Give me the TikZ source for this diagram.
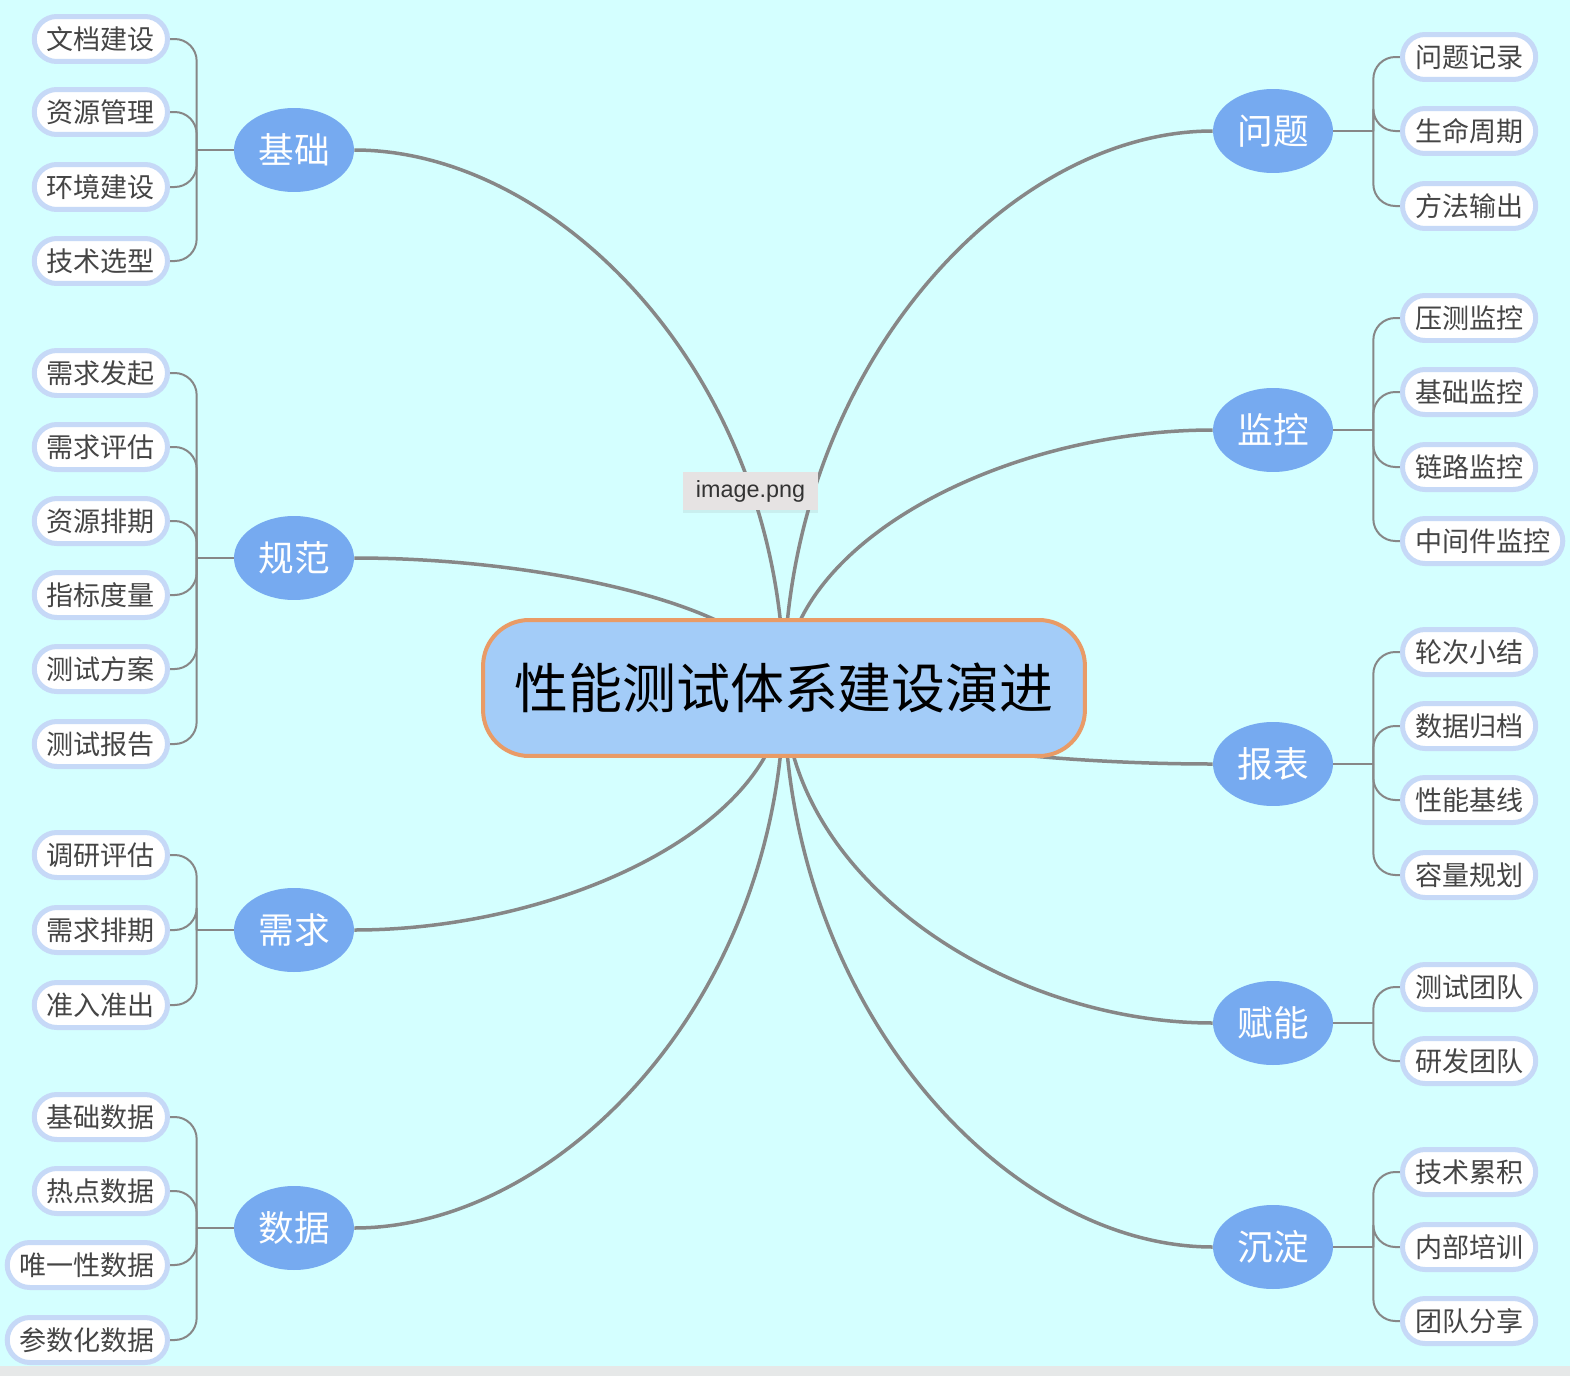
\documentclass[tikz,border=0pt]{standalone}
\usepackage{fontspec}
\setmainfont{Noto Sans CJK SC}
\newfontfamily\tipfont{Liberation Sans}
\usetikzlibrary{calc,shapes.geometric,shadows}
\definecolor{bgcyan}{HTML}{D4FFFF}
\definecolor{edgegray}{HTML}{E6E8E8}
\definecolor{rootfill}{HTML}{A3CCF8}
\definecolor{rootedge}{HTML}{E99B66}
\definecolor{topicfill}{HTML}{76AAF0}
\definecolor{leafedge}{HTML}{C6D9F7}
\definecolor{leaftext}{HTML}{454545}
\definecolor{linegray}{HTML}{878787}
\definecolor{tipfill}{HTML}{E6E3E3}
\pgfdeclarelayer{bg}
\pgfdeclarelayer{lines}
\pgfsetlayers{bg,lines,main}

\begin{document}
\begin{tikzpicture}[x=0.02cm, y=-0.02cm,
  trunk/.style={draw=linegray, line width=0.07cm},
  twig/.style={draw=linegray, line width=0.04cm, rounded corners=0.44cm},
  rootbox/.style={rectangle, rounded corners=0.92cm, draw=rootedge, line width=0.08cm,
    fill=rootfill, minimum width=12.04cm, minimum height=2.72cm, inner sep=0pt,
    font=\fontsize{30.7}{36}\selectfont},
  topic/.style={ellipse, fill=topicfill, text=white, minimum width=2.4cm,
    minimum height=1.68cm, inner sep=0pt, font=\fontsize{20.3}{24}\selectfont},
  leaf/.style={rectangle, rounded corners=0.45cm, draw=leafedge, line width=0.1cm,
    fill=white, text=leaftext, minimum height=0.9cm, inner xsep=0.25cm, inner ysep=0pt,
    font=\fontsize{15.4}{18}\selectfont},
  tipbox/.style={rectangle, fill=tipfill, text=black!80, minimum width=2.7cm,
    minimum height=0.76cm, inner sep=0pt, font=\tipfont\fontsize{13.3}{16}\selectfont,
    drop shadow={opacity=0.12, shadow xshift=0cm, shadow yshift=-0.05cm}}]
  \begin{pgfonlayer}{bg}
    \fill[bgcyan] (0,0) rectangle (1570,1376);
    \fill[edgegray] (0,1366) rectangle (1570,1376);
  \end{pgfonlayer}
  \useasboundingbox (0,0) rectangle (1570,1376);

  \node[rootbox] (root) at (784,688) {性能测试体系建设演进};

  % left branches
  \foreach \t/\name/\by/\items in {
      jc/基础/150/{文档建设/39,资源管理/112,环境建设/187,技术选型/261},
      gf/规范/558/{需求发起/373,需求评估/447,资源排期/521,指标度量/595,测试方案/669,测试报告/744},
      xq/需求/930/{调研评估/855,需求排期/930,准入准出/1005},
      sj/数据/1228/{基础数据/1117,热点数据/1191,唯一性数据/1265,参数化数据/1340}} {
    \node[topic] (\t) at (294,\by) {\name};
    \coordinate (\t-hub) at ($(\t.west)+(-37,0)$);
    \begin{pgfonlayer}{lines}
      \draw[twig] (\t.west) -- (\t-hub);
    \end{pgfonlayer}
    \foreach \txt/\ly [count=\i] in \items {
      \node[leaf, anchor=east] (\t-\i) at (170,\ly) {\txt};
      \begin{pgfonlayer}{lines}
        \draw[twig] (\t-hub) |- (\t-\i.east);
      \end{pgfonlayer}
    }
  }

  % right branches
  \foreach \t/\name/\by/\items in {
      wt/问题/131/{问题记录/57,生命周期/131,方法输出/206},
      jk/监控/430/{压测监控/318,基础监控/392,链路监控/467,中间件监控/541},
      bb/报表/764/{轮次小结/652,数据归档/726,性能基线/800,容量规划/875},
      fn/赋能/1023/{测试团队/987,研发团队/1061},
      cd/沉淀/1247/{技术累积/1172,内部培训/1247,团队分享/1321}} {
    \node[topic] (\t) at (1273,\by) {\name};
    \coordinate (\t-hub) at ($(\t.east)+(40,0)$);
    \begin{pgfonlayer}{lines}
      \draw[twig] (\t.east) -- (\t-hub);
    \end{pgfonlayer}
    \foreach \txt/\ly [count=\i] in \items {
      \node[leaf, anchor=west] (\t-\i) at (1400,\ly) {\txt};
      \begin{pgfonlayer}{lines}
        \draw[twig] (\t-hub) |- (\t-\i.west);
      \end{pgfonlayer}
    }
  }

  \begin{pgfonlayer}{lines}
    \foreach \t/\a in {jc/east,gf/east,xq/east,sj/east,wt/west,jk/west,bb/west,fn/west,cd/west} {
      \coordinate (bend) at (root.center|-\t.\a);
      \draw[trunk] (root.center) .. controls ($(root.center)!0.57!(bend)$)
        and ($(\t.\a)!0.48!(bend)$) .. (\t.\a);
    }
  \end{pgfonlayer}

  \node[tipbox] (tip) at (750.5,491) {image.png};
\end{tikzpicture}
\end{document}
